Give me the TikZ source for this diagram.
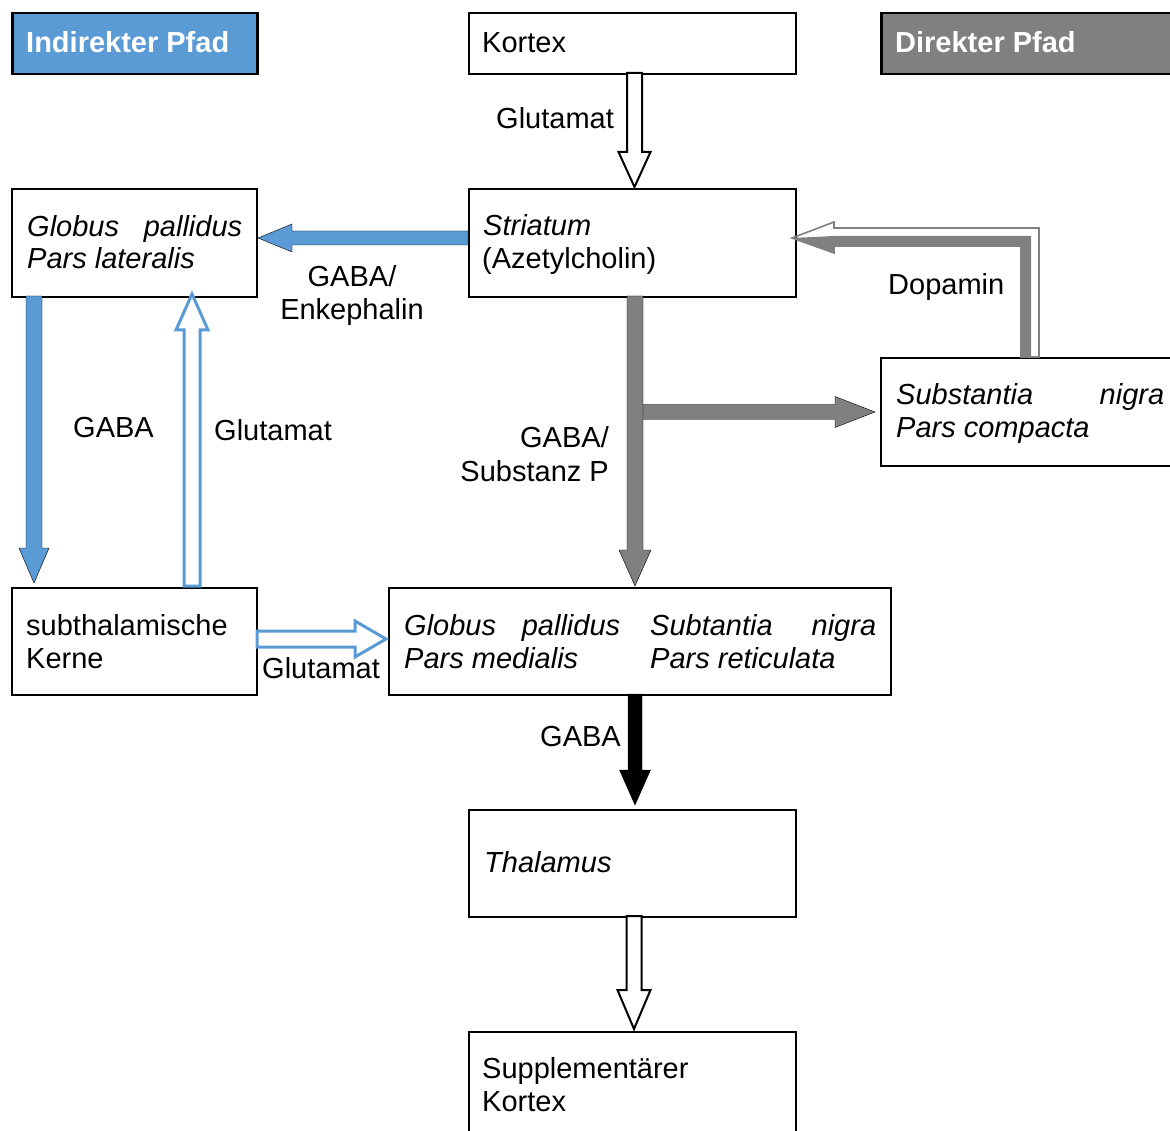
\documentclass[tikz,border=0pt]{standalone}
\usepackage{fontspec}
\setmainfont{Liberation Sans}
\definecolor{pblue}{HTML}{5B9BD5}
\definecolor{pgray}{HTML}{808080}
% vertical down block arrow: x, ytop, yheadbase, ytip, shafthalf, headhalf
\newcommand\vdownarrow[7]{%
  \draw[#7] (#1-#5,#2) -- (#1-#5,#3) -- (#1-#6,#3) -- (#1,#4) -- (#1+#6,#3) -- (#1+#5,#3) -- (#1+#5,#2) -- cycle;}
% horizontal block arrow: y, xstart, xheadbase, xtip, shafthalf, headhalf
\newcommand\hblockarrow[7]{%
  \draw[#7] (#2,#1-#5) -- (#3,#1-#5) -- (#3,#1-#6) -- (#4,#1) -- (#3,#1+#6) -- (#3,#1+#5) -- (#2,#1+#5) -- cycle;}
\begin{document}
\begin{tikzpicture}[x=1pt,y=-1pt,
  box/.style={draw=black,line width=2pt,rectangle,inner sep=0pt,anchor=north west},
  hdr/.style={draw=black,line width=2.5pt,rectangle,inner sep=0pt,anchor=north west},
  txt/.style={anchor=base west,inner sep=0pt,font=\fontsize{29}{33.5}\selectfont},
  lbl/.style={inner sep=0pt,font=\fontsize{29}{33.5}\selectfont},
  htxt/.style={anchor=base west,inner sep=0pt,text=white,font=\fontsize{29}{33.5}\selectfont\bfseries}]
\useasboundingbox (0,0) rectangle (1170,1131);
% boxes
\node[hdr,fill=pblue,minimum width=245pt,minimum height=61pt] (ind) at (11,12) {};
\node[hdr,fill=pgray,minimum width=300pt,minimum height=61pt] (dir) at (880,12) {};
\node[box,minimum width=327pt,minimum height=61pt] (kortex) at (468,12) {};
\node[box,minimum width=245pt,minimum height=108pt] (gpl) at (11,188) {};
\node[box,minimum width=327pt,minimum height=108pt] (str) at (468,188) {};
\node[box,minimum width=300pt,minimum height=108pt] (snc) at (880,357) {};
\node[box,minimum width=245pt,minimum height=107pt] (stn) at (11,587) {};
\node[box,minimum width=502pt,minimum height=107pt] (gpm) at (388,587) {};
\node[box,minimum width=327pt,minimum height=107pt] (thal) at (468,809) {};
\node[box,minimum width=327pt,minimum height=120pt] (supp) at (468,1031) {};
% box texts
\node[htxt] (tind) at (26,53) {Indirekter Pfad};
\node[htxt] (tdir) at (895,53) {Direkter Pfad};
\node[txt] (tk) at (482,53) {Kortex};
\node[txt] (tgpl1) at (27,237) {\itshape\makebox[215pt][s]{Globus pallidus}};
\node[txt] (tgpl2) at (27,269) {\itshape Pars lateralis};
\node[txt] (tstr1) at (483,236) {\itshape Striatum};
\node[txt] (tstr2) at (482,269) {(Azetylcholin)};
\node[txt] (tsnc1) at (896,405) {\itshape\makebox[268pt][s]{Substantia nigra}};
\node[txt] (tsnc2) at (896,438) {\itshape Pars compacta};
\node[txt] (tstn1) at (26,635) {subthalamische};
\node[txt] (tstn2) at (26,668) {Kerne};
\node[txt] (tgpm1) at (404,635) {\itshape\makebox[216pt][s]{Globus pallidus}};
\node[txt] (tgpm2) at (404,668) {\itshape Pars medialis};
\node[txt] (tsnr1) at (650,635) {\itshape\makebox[226pt][s]{Subtantia nigra}};
\node[txt] (tsnr2) at (650,668) {\itshape Pars reticulata};
\node[txt] (tthal) at (484,872) {\itshape Thalamus};
\node[txt] (tsup1) at (482,1078) {Supplementärer};
\node[txt] (tsup2) at (482,1111) {Kortex};
% arrow labels
\node[lbl,anchor=base west] (l1) at (496,129) {Glutamat};
\node[lbl,anchor=base,align=center] (l2) at (352,320) {GABA/\\Enkephalin};
\node[lbl,anchor=base west] (l3) at (888,295) {Dopamin};
\node[lbl,anchor=base west] (l4) at (73,438) {GABA};
\node[lbl,anchor=base west] (l5) at (214,440) {Glutamat};
\node[lbl,anchor=base east,align=right] (l6) at (609,481) {GABA/\\Substanz P};
\node[lbl,anchor=base west] (l7) at (262,678) {Glutamat};
\node[lbl,anchor=base west] (l8) at (540,746) {GABA};
% arrows
\vdownarrow{634.5}{73}{152}{187}{7.5}{16}{draw=black,line width=2pt,fill=white,line join=miter}
\hblockarrow{238}{468}{292}{258}{7}{14}{fill=pblue}
\vdownarrow{34}{296}{548}{583}{8}{15}{fill=pblue}
\vdownarrow{192}{586}{330}{294}{8}{16}{draw=pblue,line width=3pt,fill=white}
\hblockarrow{639}{257}{355}{386}{8}{18}{draw=pblue,line width=3pt,fill=white}
\hblockarrow{412}{638}{835}{875}{7.5}{15.5}{fill=pgray}
\vdownarrow{635}{296}{550}{586}{8}{16}{fill=pgray}
\vdownarrow{635}{694}{770}{805}{7}{15.5}{fill=black}
\vdownarrow{634}{916}{990}{1029}{7.5}{16.5}{draw=black,line width=2pt,fill=white}
% dopamine arrow
\fill[pgray] (792,238) -- (834,236) -- (1031,236) -- (1031,357) -- (1021,357) -- (1021,246) -- (834,246) -- (834,253) -- cycle;
\draw[pgray,line width=1.6pt] (792,238) -- (834,222) -- (834,228) -- (1039,228) -- (1039,357) -- (1021,357) -- (1021,246) -- (834,246) -- (834,253) -- cycle;
\end{tikzpicture}
\end{document}
